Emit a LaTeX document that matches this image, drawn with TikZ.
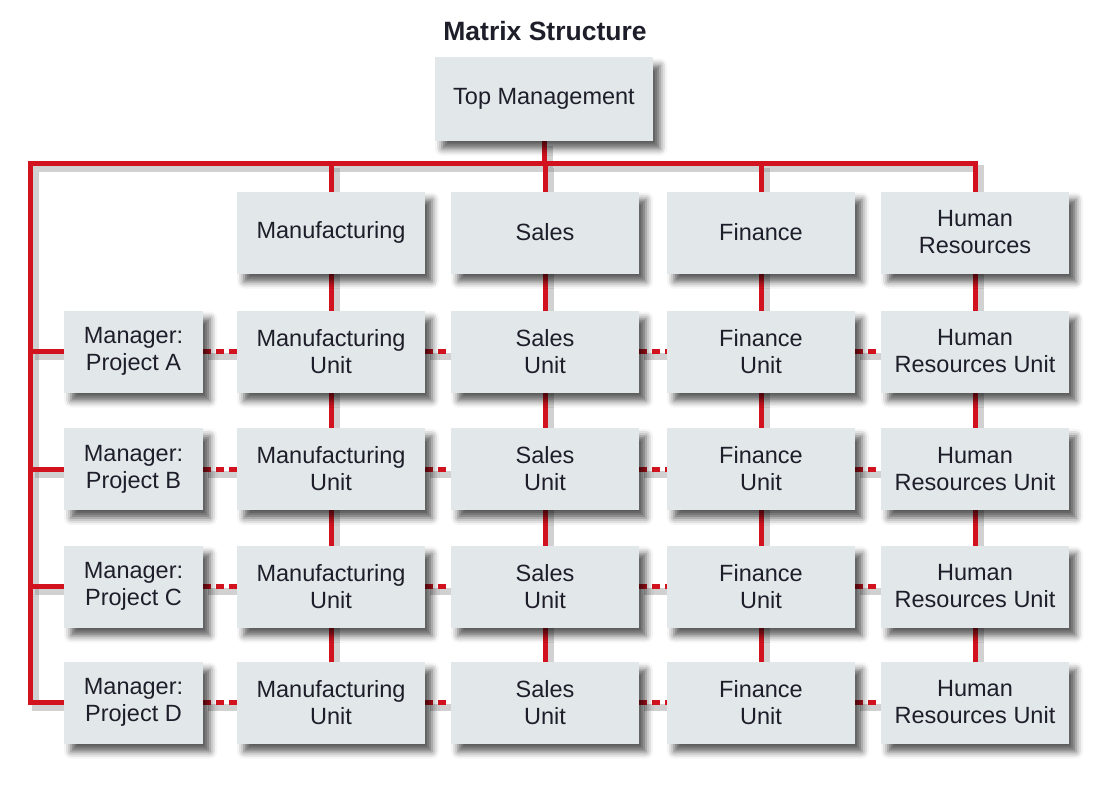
\documentclass[tikz,border=0pt]{standalone}
\usepackage{fontspec}
\setmainfont{Liberation Sans}
\usetikzlibrary{shadows.blur,backgrounds,calc}
\definecolor{boxfill}{HTML}{E2E8EA}
\definecolor{linered}{HTML}{D2131F}
\definecolor{txt}{HTML}{1E1E2A}
\tikzset{
  box/.style={draw=none, fill=boxfill, minimum width=188pt, minimum height=82pt,
    align=center, font=\fontsize{23.5}{27}\selectfont, text=txt, inner sep=0pt,
    blur shadow={shadow xshift=7pt, shadow yshift=-8pt, shadow blur radius=7pt, shadow opacity=65}},
  mgr/.style={box, minimum width=139pt},
  redline/.style={draw=linered, line width=5pt},
  reddash/.style={draw=linered, line width=5pt, dash pattern=on 8pt off 5pt},
  shadowline/.style={draw=black!45, line width=7pt, opacity=0.4},
}
\newcommand\drawconnectors[2]{%
  \draw[#1] (top.south) -- (top.south |- hl);
  \draw[#1] (mD.west) -| (hl) -- (hr) -- (D4.center);
  \draw[#1] (fM |- hl) -- (D1.center);
  \draw[#1] (fS |- hl) -- (D2.center);
  \draw[#1] (fF |- hl) -- (D3.center);
  \foreach \r in {A,B,C}{\draw[#1] (hl |- m\r) -- (m\r.west);}
  \foreach \r in {A,B,C,D}{%
    \draw[#2] (m\r.east) -- (\r1.west);
    \draw[#2] (\r1.east) -- (\r2.west);
    \draw[#2] (\r2.east) -- (\r3.west);
    \draw[#2] (\r3.east) -- (\r4.west);}
}
\begin{document}
\begin{tikzpicture}[x=1pt,y=-1pt]
\useasboundingbox (0,0) rectangle (1103,800);
\node[font=\bfseries\fontsize{26.5}{30}\selectfont, text=txt] (title) at (545,31) {Matrix Structure};
\node[box, minimum width=218pt, minimum height=83pt] (top) at (544,99) {Top Management};
\node[box] (fM) at (331,232.5) {Manufacturing};
\node[box] (fS) at (545,232.5) {Sales};
\node[box] (fF) at (761,232.5) {Finance};
\node[box] (fH) at (975,232.5) {Human\\Resources};
\foreach \r/\y in {A/351.5,B/469,C/586.5,D/702.5}{
  \node[mgr] (m\r) at (133.5,\y) {Manager:\\Project \r};
  \node[box] (\r1) at (331,\y) {Manufacturing\\Unit};
  \node[box] (\r2) at (545,\y) {Sales\\Unit};
  \node[box] (\r3) at (761,\y) {Finance\\Unit};
  \node[box] (\r4) at (975,\y) {Human\\Resources Unit};
}
\coordinate (hl) at (30,163);
\coordinate (hr) at (975,163);
\begin{pgfonlayer}{background}
  \begin{scope}[transform canvas={shift={(5pt,-5pt)}}]
    \drawconnectors{shadowline}{shadowline}
  \end{scope}
  \drawconnectors{redline}{reddash}
\end{pgfonlayer}
\end{tikzpicture}
\end{document}
